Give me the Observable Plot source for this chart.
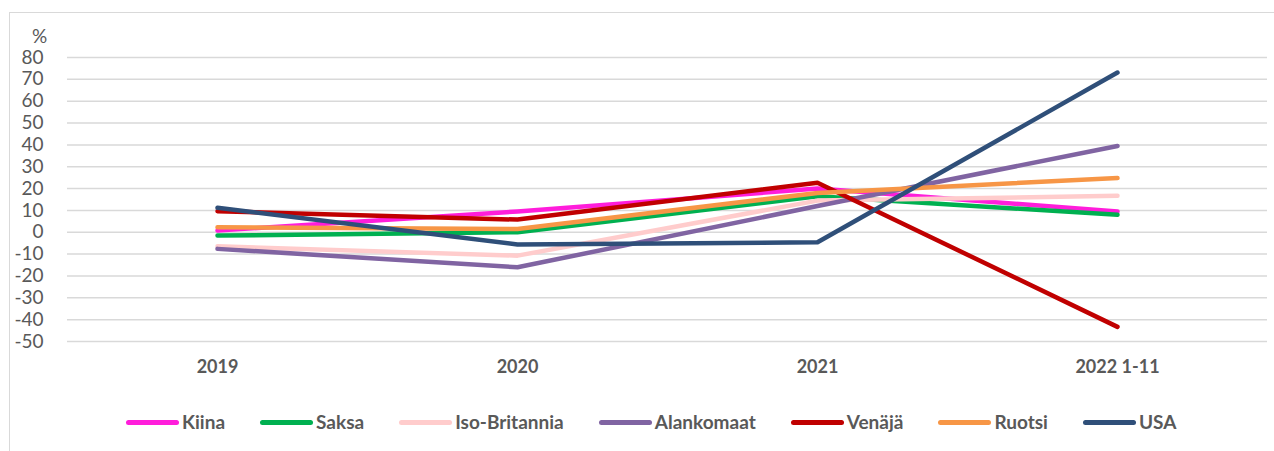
<!DOCTYPE html>
<html>
<head>
<meta charset="utf-8">
<script src="https://cdn.jsdelivr.net/npm/d3@7"></script>
<script src="https://cdn.jsdelivr.net/npm/@observablehq/plot@0.6"></script>
<style>
  html, body { margin: 0; padding: 0; background: #fff; }
  body { width: 1274px; height: 451px; position: relative; overflow: hidden; font-family: Lato, "Open Sans", sans-serif; }
  #frame { position: absolute; left: 9px; top: 12px; width: 1280px; height: 460px; border: 1px solid #d9d9d9; box-sizing: border-box; }
  #chart { position: absolute; left: 0; top: 0; }
  #unit { position: absolute; left: 32px; top: 26px; font-size: 19px; line-height: 19px; color: #595959; }
  #legend { position: absolute; left: 126px; top: 412px; display: flex; align-items: center; gap: 35px; line-height: 20px; }
  .item { display: flex; align-items: center; font-size: 19px; font-weight: bold; color: #595959; }
  .sw { display: inline-block; width: 53px; height: 5px; border-radius: 3px; margin-right: 3px; }
</style>
</head>
<body>
<div id="frame"></div>
<div id="chart"></div>
<div id="unit">%</div>
<div id="legend"></div>
<script>
const years = ["2019", "2020", "2021", "2022 1-11"];
const yTicks = [-50, -40, -30, -20, -10, 0, 10, 20, 30, 40, 50, 60, 70, 80];

const names = ["Kiina", "Saksa", "Iso-Britannia", "Alankomaat", "Venäjä", "Ruotsi", "USA"];
const colors = ["#FF1DDB", "#00B050", "#FFCCCC", "#8064A2", "#C00000", "#F79646", "#2F4F79"];

const kiina        = [0.8, 9.5, 20.0, 9.5];
const saksa        = [-1.5, 0.0, 16.5, 8.0];
const isoBritannia = [-6.4, -10.7, 14.5, 16.7];
const alankomaat   = [-7.6, -16.0, 12.0, 39.5];
const venaja       = [9.6, 5.8, 22.7, -43.3];
const ruotsi       = [2.3, 1.5, 18.0, 24.8];
const usa          = [11.2, -5.6, -4.6, 73.1];

const seriesValues = [kiina, saksa, isoBritannia, alankomaat, venaja, ruotsi, usa];

const data = names.flatMap((name, k) =>
  years.map((year, i) => ({ name, year, value: seriesValues[k][i] }))
);

const chart = Plot.plot({
  width: 1274,
  height: 400,
  marginLeft: 67,
  marginRight: 7,
  marginTop: 57,
  marginBottom: 59,
  style: { fontFamily: "Lato, 'Open Sans', sans-serif", color: "#595959", background: "transparent" },
  x: { type: "point", domain: years, padding: 0.5, label: null },
  y: { domain: [-50, 80], label: null },
  color: { domain: names, range: colors },
  marks: [
    Plot.gridY(yTicks, { stroke: "#d9d9d9", strokeOpacity: 1, strokeWidth: 1.5 }),
    Plot.axisY(yTicks, { tickSize: 0, tickPadding: 24, fontSize: 19, fill: "#595959", tickFormat: d => String(d), label: null }),
    Plot.axisX({ tickSize: 0, tickPadding: 19, fontSize: 18, fontWeight: "bold", fill: "#595959", label: null }),
    Plot.line(data, { x: "year", y: "value", z: "name", stroke: "name", strokeWidth: 4.5, strokeLinecap: "round", strokeLinejoin: "round" })
  ]
});
document.getElementById("chart").appendChild(chart);

const legend = document.getElementById("legend");
names.forEach((n, i) => {
  const it = document.createElement("div");
  it.className = "item";
  const sw = document.createElement("span");
  sw.className = "sw";
  sw.style.background = colors[i];
  it.appendChild(sw);
  it.appendChild(document.createTextNode(n));
  legend.appendChild(it);
});
</script>
</body>
</html>
